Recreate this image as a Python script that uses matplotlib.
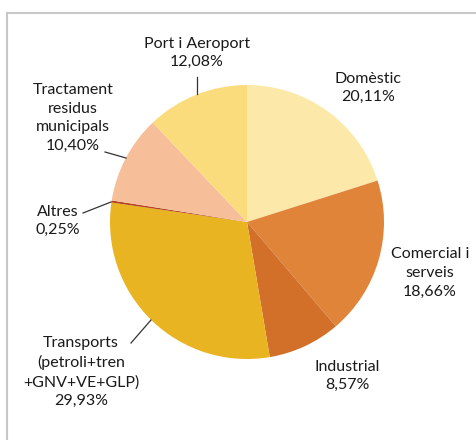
import matplotlib
matplotlib.use("Agg")
import matplotlib.pyplot as plt
from matplotlib.lines import Line2D

# data, clockwise from 12 o'clock
sectors = ["Domèstic", "Comercial i\nserveis", "Industrial",
           "Transports\n(petroli+tren\n+GNV+VE+GLP)", "Altres",
           "Tractament\nresidus\nmunicipals", "Port i Aeroport"]
shares = [20.11, 18.66, 8.57, 29.93, 0.25, 10.40, 12.08]
colors = ["#FCE9A9", "#E0843A", "#D26F28", "#E9B421", "#B5441C",
          "#F6BF9A", "#FBDC7C"]

W, H = 477, 440
fig = plt.figure(figsize=(W / 100, H / 100), dpi=100)
ax = fig.add_axes([0, 0, 1, 1])

cx, cy, r = 247, H - 222, 137
ax.pie(shares, colors=colors, startangle=90, counterclock=False,
       center=(cx, cy), radius=r, frame=True,
       wedgeprops=dict(linewidth=0))
ax.set_xlim(0, W)
ax.set_ylim(0, H)
ax.set_aspect("equal")
ax.axis("off")

plt.rcParams["font.family"] = ["Lato", "DejaVu Sans"]

# label centre (pixel coords, y from top) and optional leader line
label_pos = [(368, 88), (430, 273), (347, 376), (81, 372), (58, 221),
             (73, 118), (197, 53)]
leaders = [None, None, None, ((131, 343), (151, 320)), ((83, 213), (111, 202)),
           ((105, 152), (126, 158)), ((197, 77), (197, 94))]


def pct(v):
    return f"{v:.2f}".replace(".", ",") + "%"


for name, v, (x, y), ld in zip(sectors, shares, label_pos, leaders):
    ax.text(x, H - y, name + "\n" + pct(v), ha="center", va="center",
            fontsize=11.5, color="#1A1A1A", linespacing=1.42)
    if ld is not None:
        (x0, y0), (x1, y1) = ld
        ax.plot([x0, x1], [H - y0, H - y1], color="#333333", lw=0.9)

# outer frame (top and left only)
fig.add_artist(Line2D([7 / W, 475 / W], [1 - 13 / H, 1 - 13 / H],
                      transform=fig.transFigure, color="#C8C8C8", lw=1.5))
fig.add_artist(Line2D([7 / W, 7 / W], [0, 1 - 13 / H],
                      transform=fig.transFigure, color="#C8C8C8", lw=1.5))

fig.savefig("out.png", dpi=100)
